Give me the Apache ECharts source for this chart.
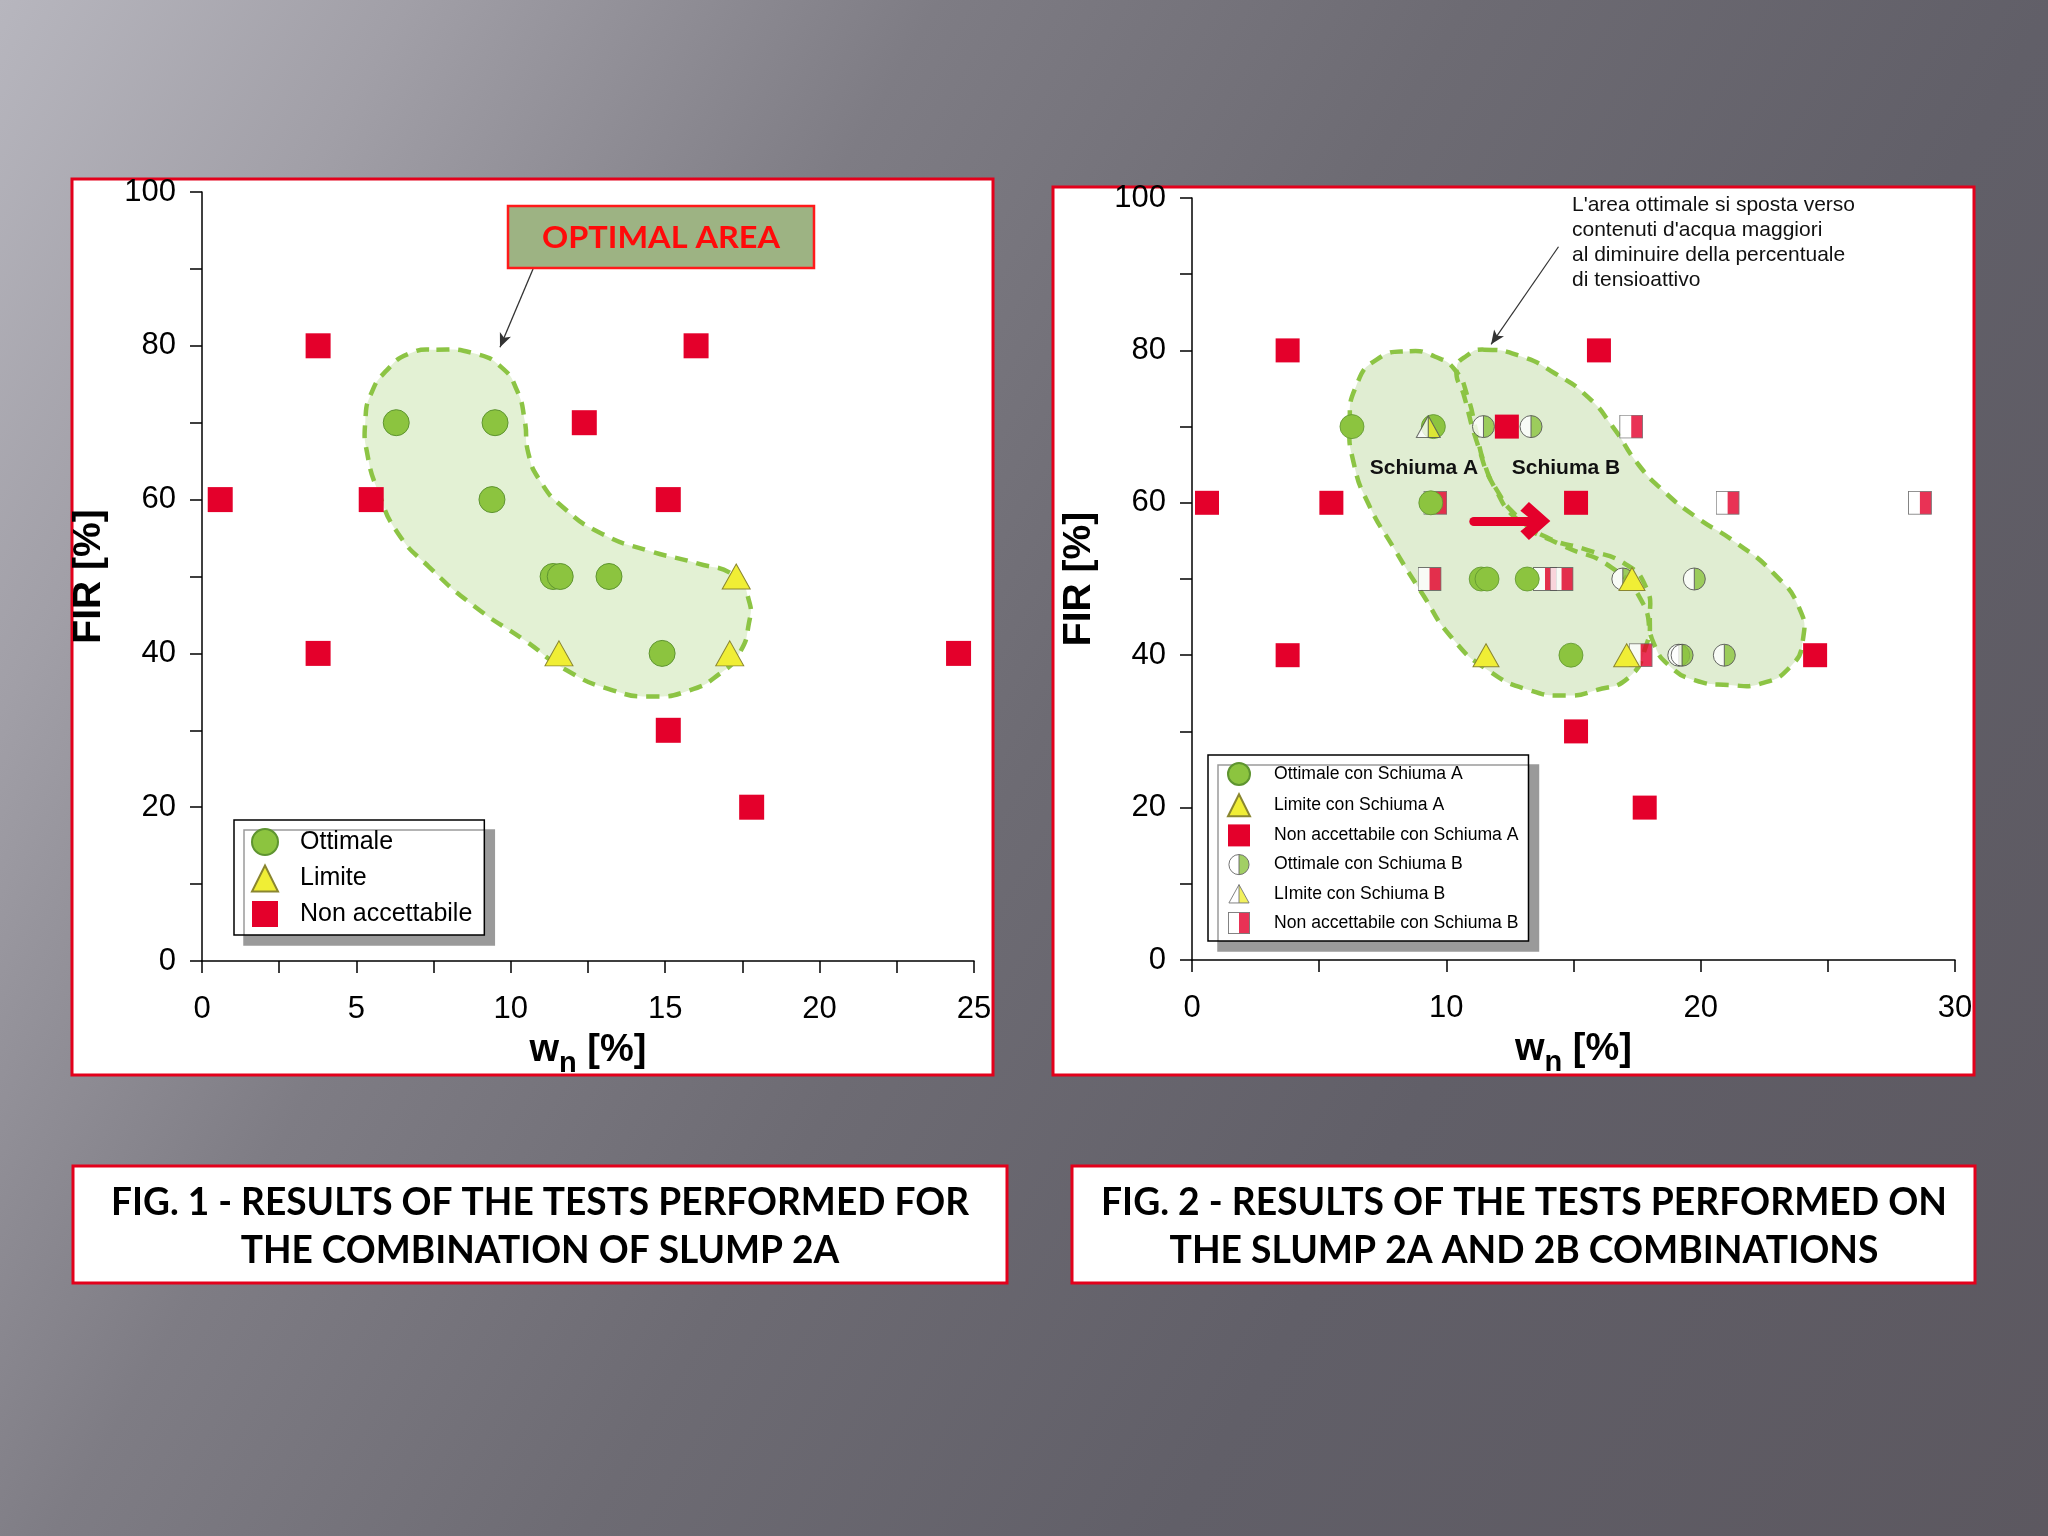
<!DOCTYPE html>
<html><head><meta charset="utf-8">
<script src="https://cdn.jsdelivr.net/npm/echarts@6/dist/echarts.min.js"></script>
<style>
html,body{margin:0;padding:0;width:2048px;height:1536px;overflow:hidden;
background:linear-gradient(120deg,#b7b6be 0%,#a19fa7 14%,#7e7c84 32%,#6d6b73 50%,#615f68 70%,#5c5860 100%);}
#chart{width:2048px;height:1536px;}
</style></head><body><div id="chart"></div>
<script>
// ---- data (w_n [%], FIR [%]) ----
const ottimaleA = [[6.29,70],[9.49,70],[9.39,60],[11.37,50],[11.6,50],[13.18,50],[14.9,40]];
const limiteA   = [[17.3,50],[11.56,40],[17.09,40]];
const nonAccA   = [[3.76,80],[16.0,80],[12.38,70],[0.59,60],[5.48,60],[15.1,60],[3.76,40],[24.5,40],[15.1,30],[17.8,20]];
const ottimaleB = [[11.46,70],[13.33,70],[16.94,50],[19.75,50],[19.14,40],[19.27,40],[20.93,40]];
const limiteB   = [[9.29,70]];
const nonAccB   = [[17.27,70],[9.57,60],[21.06,60],[28.62,60],[9.34,50],[13.88,50],[14.53,50],[17.64,40]];

const yTicks = [0,20,40,60,80,100];
const xTicksLeft = [0,5,10,15,20,25];
const xTicksRight = [0,10,20,30];

// optimal-area outlines (data coordinates)
const areaFig1 = [[7.59,79.5],[8.83,79.0],[9.7,77.2],[10.2,74.2],[10.45,70.3],[10.57,66.0],[10.94,62.5],[11.69,59.0],[12.93,55.6],[14.42,53.4],[16.04,51.7],[17.28,50],[17.71,46.9],[17.71,43.9],[17.4,40],[16.78,37.4],[15.79,35.2],[14.55,34.4],[13.3,35.2],[11.81,37.8],[10.45,41.7],[8.83,46.1],[7.34,51.3],[6.35,55.6],[5.73,60.8],[5.35,66],[5.29,70.3],[5.48,73.8],[5.98,76.8],[6.72,79.0]];
const areaSchiumaA = [[8.56,79.9],[9.54,79.2],[10.35,77.4],[10.84,73.9],[11.16,69.6],[11.49,65.2],[11.98,61.7],[12.79,58.2],[13.93,55.5],[15.56,53.8],[17.02,52.0],[17.84,49.0],[18.0,45.0],[17.84,41.1],[17.18,37.1],[15.88,35.4],[14.74,34.7],[13.28,35.4],[11.65,38.0],[10.19,42.4],[9.05,48.1],[7.91,54.2],[6.93,59.9],[6.36,65.2],[6.2,70.4],[6.45,75.3],[7.26,78.8]];
const areaSchiumaB = [[11.49,80.1],[12.95,79.2],[14.26,77.0],[15.56,73.9],[16.54,70],[17.51,65.2],[18.49,61.7],[19.79,58.2],[21.42,54.7],[22.88,50.7],[23.86,46.3],[24.02,42.0],[23.53,38.5],[22.39,36.3],[21.09,36.1],[19.79,36.7],[18.81,38.5],[18.16,41.5],[17.7,47],[16.5,51.5],[14.5,54.5],[12.9,57.5],[11.9,62],[11.2,68],[10.7,74],[10.4,77.5],[10.8,79.3]];

// ---- styling helpers ----
const GREEN = '#8cc43f', GREEN_B = '#5e9430', YELLOW = '#f0ee35', YELLOW_B = '#8a8630', RED = '#e4002b';
function svgSym(svg){ return 'image://data:image/svg+xml;charset=utf-8,' + encodeURIComponent(svg); }
const halfCircle = svgSym("<svg xmlns='http://www.w3.org/2000/svg' width='48' height='48' viewBox='0 0 48 48'><circle cx='24' cy='24' r='22' fill='#fff'/><path d='M24 2 A22 22 0 0 1 24 46 Z' fill='"+GREEN+"'/><line x1='24' y1='2' x2='24' y2='46' stroke='#444' stroke-width='2'/><circle cx='24' cy='24' r='22' fill='none' stroke='#444' stroke-width='2'/></svg>");
const halfTri = svgSym("<svg xmlns='http://www.w3.org/2000/svg' width='48' height='44' viewBox='0 0 48 44'><polygon points='24,2 46,42 2,42' fill='#fff'/><polygon points='24,2 46,42 24,42' fill='"+YELLOW+"'/><line x1='24' y1='2' x2='24' y2='42' stroke='#555' stroke-width='2'/><polygon points='24,2 46,42 2,42' fill='none' stroke='#555' stroke-width='2'/></svg>");
const halfSquare = svgSym("<svg xmlns='http://www.w3.org/2000/svg' width='48' height='48' viewBox='0 0 48 48'><rect x='1' y='1' width='46' height='46' fill='#fff'/><rect x='24' y='1' width='23' height='46' fill='"+RED+"'/><rect x='1' y='1' width='46' height='46' fill='none' stroke='#555' stroke-width='2'/></svg>");

function areaRender(areas){
  return function(params, api){
    if (params.dataIndex !== 0) return null;
    const children = [];
    areas.forEach(a => children.push({type:'polygon', shape:{points:a.pts.map(p=>api.coord(p)), smooth:0.55},
      style:{fill:a.fill, stroke:null}}));
    areas.forEach(a => children.push({type:'polygon', shape:{points:a.pts.map(p=>api.coord(p)), smooth:0.55},
      style:{fill:'transparent', stroke:'#8cc444', lineWidth:4.5, lineDash:[13,9]}}));
    return {type:'group', children};
  };
}

const mctx = document.createElement('canvas').getContext('2d');
function measure(t, font){ mctx.font = font; return mctx.measureText(t).width; }
const capFont = 'bold 38px Lato';
const cap1a = 'FIG. 1 - RESULTS OF THE TESTS PERFORMED FOR', cap1b = 'THE COMBINATION OF SLUMP 2A';
const cap2a = 'FIG. 2 - RESULTS OF THE TESTS PERFORMED ON', cap2b = 'THE SLUMP 2A AND 2B COMBINATIONS';
const s1 = 858 / measure(cap1a, capFont), s2 = 846 / measure(cap2a, capFont);
const oaFont = 'bold 30px Lato';
const sOA = 238 / measure('OPTIMAL AREA', oaFont);

const axisCommon = {
  axisLine:{show:true, onZero:false, lineStyle:{color:'#000', width:1.5}},
  axisTick:{show:true, inside:false, length:12, lineStyle:{color:'#000', width:1.5}},
  splitLine:{show:false},
  axisLabel:{color:'#000', fontSize:31, fontFamily:'Liberation Sans'}
};
const xName = '{a|w}{s|n}{a| [%]}';
const xNameStyle = {color:'#000', rich:{
  a:{fontSize:38, fontWeight:'bold', fontFamily:'Liberation Sans', lineHeight:54, verticalAlign:'middle', color:'#000'},
  s:{fontSize:29, fontWeight:'bold', fontFamily:'Liberation Sans', lineHeight:54, verticalAlign:'bottom', color:'#000'}}};
const yNameStyle = {color:'#000', fontSize:39, fontWeight:'bold', fontFamily:'Liberation Sans'};

function xAxis(idx, max, interval, ticks){
  return Object.assign({}, axisCommon, {type:'value', gridIndex:idx, min:0, max:max, interval:interval,
    name:xName, nameLocation:'middle', nameGap:63, nameTextStyle:xNameStyle,
    axisLabel:Object.assign({}, axisCommon.axisLabel, {margin:33, formatter:v => ticks.includes(v) ? String(v) : ''})});
}
function yAxis(idx){
  return Object.assign({}, axisCommon, {type:'value', gridIndex:idx, min:0, max:100, interval:10,
    name:'FIR [%]', nameLocation:'middle', nameGap:93, nameTextStyle:yNameStyle,
    axisLabel:Object.assign({}, axisCommon.axisLabel, {margin:26, formatter:v => yTicks.includes(v) ? String(v) : ''})});
}

const legendCommon = {orient:'vertical', selectedMode:false, backgroundColor:'#fff', borderColor:'#000', borderWidth:1.5,
  shadowColor:'#9a9a9a', shadowBlur:0, shadowOffsetX:10, shadowOffsetY:10};

const option = {
  animation:false,
  textStyle:{fontFamily:'Liberation Sans'},
  grid:[{left:202, top:192, width:772, height:769}, {left:1192, top:198, width:763, height:762}],
  xAxis:[xAxis(0,25,2.5,xTicksLeft), xAxis(1,30,5,xTicksRight)],
  yAxis:[yAxis(0), yAxis(1)],
  legend:[
    Object.assign({}, legendCommon, {left:234, top:820, padding:[8,12,8,17], itemWidth:26, itemHeight:26, itemGap:8.5,
      textStyle:{color:'#000', fontSize:25, fontFamily:'Liberation Sans', padding:[0,0,0,17]},
      data:['Ottimale','Limite','Non accettabile']}),
    Object.assign({}, legendCommon, {left:1208, top:755, padding:[7,10,7,19], itemWidth:22, itemHeight:22, itemGap:7.2,
      textStyle:{color:'#000', fontSize:17.6, fontFamily:'Liberation Sans', padding:[0,0,0,19]},
      data:['Ottimale con Schiuma A','Limite con Schiuma A','Non accettabile con Schiuma A','Ottimale con Schiuma B','LImite con Schiuma B','Non accettabile con Schiuma B']})
  ],
  series:[
    // Fig. 1
    {type:'custom', xAxisIndex:0, yAxisIndex:0, z:1, silent:true, data:[areaFig1[0]],
      renderItem:areaRender([{pts:areaFig1, fill:'#e3f1d4'}])},
    {type:'scatter', name:'Ottimale', xAxisIndex:0, yAxisIndex:0, z:3, data:ottimaleA, symbol:'circle', symbolSize:26,
      itemStyle:{color:GREEN, borderColor:GREEN_B, borderWidth:1, opacity:1},
      markLine:{silent:true, symbol:['none','arrow'], symbolSize:[9,14], label:{show:false},
        lineStyle:{color:'#333', width:1.3, type:'solid'}, emphasis:{disabled:true},
        data:[[{coord:[10.72,90]},{coord:[9.65,79.8]}]]}},
    {type:'scatter', name:'Limite', xAxisIndex:0, yAxisIndex:0, z:3, data:limiteA, symbol:'triangle', symbolSize:[28,25],
      itemStyle:{color:YELLOW, borderColor:YELLOW_B, borderWidth:1, opacity:1}},
    {type:'scatter', name:'Non accettabile', xAxisIndex:0, yAxisIndex:0, z:4, data:nonAccA, symbol:'rect', symbolSize:25,
      itemStyle:{color:RED, opacity:1}},
    // Fig. 2
    {type:'custom', xAxisIndex:1, yAxisIndex:1, z:1, silent:true, data:[areaSchiumaA[0]],
      renderItem:areaRender([{pts:areaSchiumaA, fill:'#e0edd2'},{pts:areaSchiumaB, fill:'#e0edd2'}])},
    {type:'scatter', name:'Non accettabile con Schiuma B', xAxisIndex:1, yAxisIndex:1, z:3, data:nonAccB, symbol:halfSquare, symbolSize:24},
    {type:'scatter', name:'Ottimale con Schiuma A', xAxisIndex:1, yAxisIndex:1, z:4, data:ottimaleA, symbol:'circle', symbolSize:24,
      itemStyle:{color:GREEN, borderColor:GREEN_B, borderWidth:0.8, opacity:1},
      markLine:{silent:true, symbol:['none','arrow'], symbolSize:[9,14], label:{show:false},
        lineStyle:{color:'#333', width:1.2, type:'solid'}, emphasis:{disabled:true},
        data:[[{coord:[14.41,93.6]},{coord:[11.76,80.8]}]]}},
    {type:'scatter', name:'Ottimale con Schiuma B', xAxisIndex:1, yAxisIndex:1, z:5, data:ottimaleB, symbol:halfCircle, symbolSize:24},
    {type:'scatter', name:'Limite con Schiuma A', xAxisIndex:1, yAxisIndex:1, z:6, data:limiteA, symbol:'triangle', symbolSize:[26,23],
      itemStyle:{color:YELLOW, borderColor:YELLOW_B, borderWidth:1, opacity:1},
      markLine:{silent:true, symbol:['none','path://M13,0 L26,15 L20,21 L13,12 L6,21 L0,15 Z'], symbolSize:[38,30], label:{show:false},
        lineStyle:{color:RED, width:9, type:'solid', cap:'round'}, emphasis:{disabled:true},
        data:[[{coord:[11.08,57.6]},{coord:[13.5,57.6]}]]}},
    {type:'scatter', name:'LImite con Schiuma B', xAxisIndex:1, yAxisIndex:1, z:6, data:limiteB, symbol:halfTri, symbolSize:[26,24]},
    {type:'scatter', name:'Non accettabile con Schiuma A', xAxisIndex:1, yAxisIndex:1, z:7, data:nonAccA, symbol:'rect', symbolSize:24,
      itemStyle:{color:RED, opacity:1}}
  ],
  graphic:[
    {type:'rect', z:-10, shape:{x:72, y:179, width:921, height:896}, style:{fill:'#fff', stroke:'#e3001b', lineWidth:3}},
    {type:'rect', z:-10, shape:{x:1053, y:187, width:921, height:888}, style:{fill:'#fff', stroke:'#e3001b', lineWidth:3}},
    {type:'rect', z:-10, shape:{x:73, y:1166, width:934, height:117}, style:{fill:'#fff', stroke:'#e3001b', lineWidth:3}},
    {type:'rect', z:-10, shape:{x:1072, y:1166, width:903, height:117}, style:{fill:'#fff', stroke:'#e3001b', lineWidth:3}},
    {type:'text', z:10, x:540, y:1203, scaleX:s1, style:{text:cap1a, font:capFont, fill:'#000', align:'center', verticalAlign:'middle'}},
    {type:'text', z:10, x:540, y:1251, scaleX:s1, style:{text:cap1b, font:capFont, fill:'#000', align:'center', verticalAlign:'middle'}},
    {type:'text', z:10, x:1524, y:1203, scaleX:s2, style:{text:cap2a, font:capFont, fill:'#000', align:'center', verticalAlign:'middle'}},
    {type:'text', z:10, x:1524, y:1251, scaleX:s2, style:{text:cap2b, font:capFont, fill:'#000', align:'center', verticalAlign:'middle'}},
    {type:'rect', z:10, shape:{x:508, y:206, width:306, height:62}, style:{fill:'#9db383', stroke:'#ff1a1a', lineWidth:2.5}},
    {type:'text', z:11, x:661, y:238, scaleX:sOA, style:{text:'OPTIMAL AREA', font:oaFont, fill:'#ff0a0a', align:'center', verticalAlign:'middle'}},
    {type:'text', z:10, x:1572, y:193, style:{text:"L'area ottimale si sposta verso\ncontenuti d'acqua maggiori\nal diminuire della percentuale\ndi tensioattivo",
      font:'21px "Liberation Sans"', lineHeight:25, fill:'#111', align:'left', verticalAlign:'top'}},
    {type:'text', z:10, x:1424, y:468, style:{text:'Schiuma A', font:'bold 21px "Liberation Sans"', fill:'#111', align:'center', verticalAlign:'middle'}},
    {type:'text', z:10, x:1566, y:468, style:{text:'Schiuma B', font:'bold 21px "Liberation Sans"', fill:'#111', align:'center', verticalAlign:'middle'}}
  ]
};
const chart = echarts.init(document.getElementById('chart'), null, {renderer:'canvas'});
chart.setOption(option);
</script></body></html>
